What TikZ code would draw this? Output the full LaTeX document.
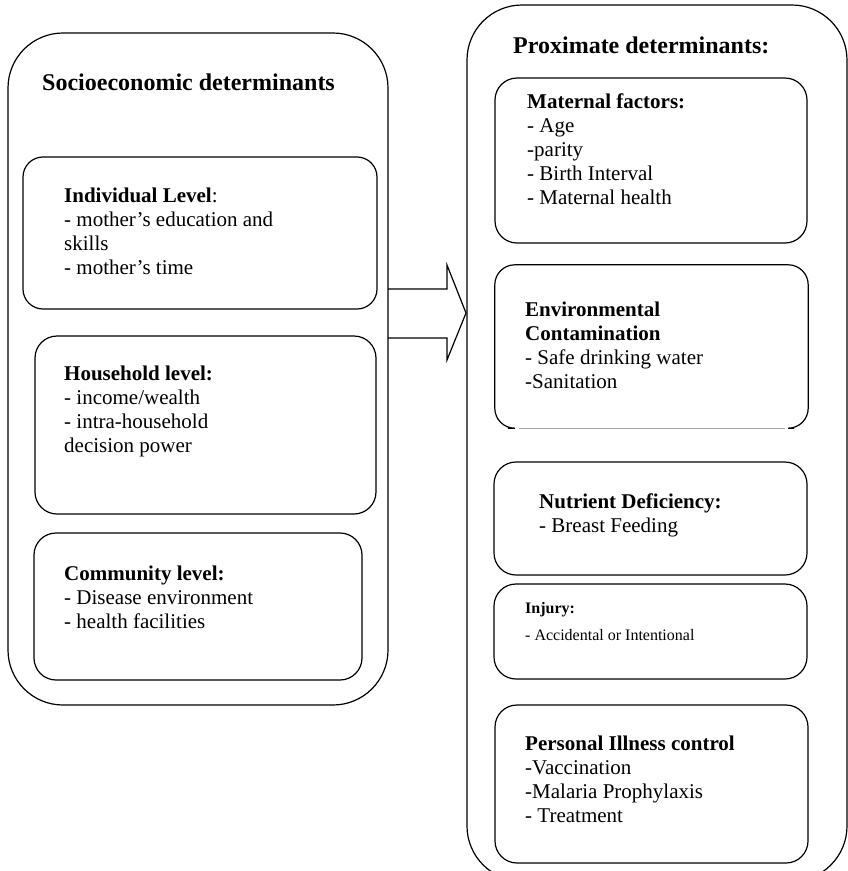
\documentclass[tikz,border=0pt]{standalone}
\usepackage{fontspec}
\setmainfont{Liberation Serif}
\usetikzlibrary{calc}
\tikzset{
  box/.style={draw=black, line width=1.2pt, rounded corners=#1, inner sep=0pt},
  box/.default=22pt,
  txt/.style={inner sep=0pt, align=left, anchor=base west, font=\fontsize{21}{24}\selectfont},
  head/.style={inner sep=0pt, anchor=base west, font=\fontsize{24}{28}\selectfont\bfseries},
}
\begin{document}
\begin{tikzpicture}[x=1pt,y=-1pt]
\clip (0,0) rectangle (848,871);
\fill[white] (0,0) rectangle (848,871);
% outer boxes
\node[box=55pt, minimum width=380pt, minimum height=672pt] (left) at (198,369) {};
\node[box=55pt, minimum width=380pt, minimum height=876pt] (right) at (657,443) {};
% left inner boxes
\node[box=20pt, minimum width=354pt, minimum height=152pt] (ind) at (200,233) {};
\node[box=22pt, minimum width=341pt, minimum height=178pt] (hh) at (205.5,425) {};
\node[box=22pt, minimum width=328pt, minimum height=147pt] (com) at (198,606.5) {};
% right inner boxes
\node[box=22pt, minimum width=312pt, minimum height=165pt] (mat) at (651,160.5) {};
\node[inner sep=0pt, minimum width=313pt, minimum height=163pt] (env) at (651.5,346.5) {};
\draw[line width=1.2pt, rounded corners=20pt] ($(env.south west)+(13,0)$) -- (env.south west) -- (env.north west) -- (env.north east) -- (env.south east) -- ($(env.south east)+(-14,0)$);
\draw[gray!70, line width=0.8pt] ($(env.south west)+(24,0)$) -- ($(env.south east)+(-23,0)$);
\node[box=22pt, minimum width=313pt, minimum height=113pt] (nut) at (650.5,518.5) {};
\node[box=22pt, minimum width=313pt, minimum height=95pt] (inj) at (650.5,631.5) {};
\node[box=22pt, minimum width=313pt, minimum height=158pt] (pers) at (651.5,784) {};
% block arrow
\draw[line width=1.2pt, line join=miter] (388,289) -- (447,289) -- (447,265) -- (466,313) -- (447,360) -- (447,338) -- (388,338);
% texts (base anchor = baseline of the last line)
\node[head] (tleft) at (42,90) {Socioeconomic determinants};
\node[head] (tright) at (513,53) {Proximate determinants:};
\node[txt] (tind) at (64,274) {\textbf{Individual Level}:\\- mother’s education and\\skills\\- mother’s time};
\node[txt] (thh) at (64,452) {\textbf{Household level:}\\- income/wealth\\- intra-household\\decision power};
\node[txt] (tcom) at (64,628) {\textbf{Community level:}\\- Disease environment\\- health facilities};
\node[txt] (tmat) at (527,204) {\textbf{Maternal factors:}\\- Age\\-parity\\- Birth Interval\\- Maternal health};
\node[txt] (tenv) at (525,388) {\textbf{Environmental}\\\textbf{Contamination}\\- Safe drinking water\\-Sanitation};
\node[txt] (tnut) at (539,532) {\textbf{Nutrient Deficiency:}\\- Breast Feeding};
\node[inner sep=0pt, anchor=base west, font=\fontsize{16}{18}\selectfont\bfseries] (tinj1) at (525,613) {Injury:};
\node[inner sep=0pt, anchor=base west, font=\fontsize{16}{18}\selectfont] (tinj2) at (525,640) {- Accidental or Intentional};
\node[txt] (tpers) at (525,822) {\textbf{Personal Illness control}\\-Vaccination\\-Malaria Prophylaxis\\- Treatment};
\end{tikzpicture}
\end{document}
